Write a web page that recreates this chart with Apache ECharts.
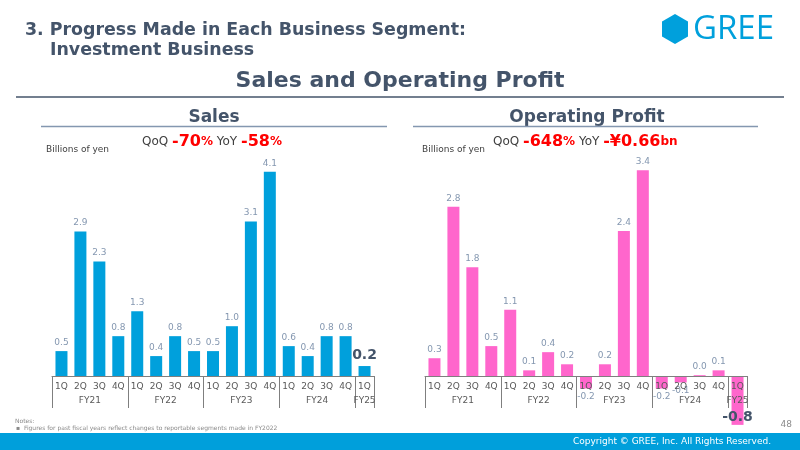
<!DOCTYPE html>
<html>
<head>
<meta charset="utf-8">
<title>Investment Business - Sales and Operating Profit</title>
<script src="https://cdn.jsdelivr.net/npm/echarts@6/dist/echarts.min.js"></script>
<style>
html, body { margin: 0; padding: 0; background: #fff; }
#chart_seg { width: 800px; height: 450px; }
</style>
</head>
<body>
<div id="chart_seg"></div>
<script>
// quarters and fiscal year groups
const quarters = ['1Q', '2Q', '3Q', '4Q', '1Q', '2Q', '3Q', '4Q', '1Q', '2Q', '3Q', '4Q', '1Q', '2Q', '3Q', '4Q', '1Q'];
const fiscalYears = ['FY21', 'FY22', 'FY23', 'FY24', 'FY25'];
const fyQuarterCount = [4, 4, 4, 4, 1];

// billions of yen
const salesValues = [0.5, 2.9, 2.3, 0.8, 1.3, 0.4, 0.8, 0.5, 0.5, 1.0, 3.1, 4.1, 0.6, 0.4, 0.8, 0.8, 0.2];
const profitValues = [0.3, 2.8, 1.8, 0.5, 1.1, 0.1, 0.4, 0.2, -0.2, 0.2, 2.4, 3.4, -0.2, -0.1, 0.02, 0.1, -0.8];

const salesChange = { qoq: '-70', qoqUnit: '%', yoy: '-58', yoyUnit: '%' };
const profitChange = { qoq: '-648', qoqUnit: '%', yoy: '-¥0.66', yoyUnit: 'bn' };

const DARK = '#44546a';
const FONT = '"DejaVu Sans", Verdana, sans-serif';

// group boundaries / centres on a 0..n value scale
let fyBounds = [0];
let fyCentres = [];
fyQuarterCount.forEach((n) => {
  let start = fyBounds[fyBounds.length - 1];
  fyCentres.push(start + n / 2);
  fyBounds.push(start + n);
});

function barData(values) {
  return values.map((v, i) => {
    let last = i === values.length - 1;
    let item = { value: v, label: { position: v < 0 ? 'bottom' : 'top' } };
    if (last) {
      item.label = {
        position: v < 0 ? 'insideBottom' : 'top',
        distance: v < 0 ? 1 : 4,
        fontSize: 14,
        fontWeight: 'bold',
        color: DARK
      };
    }
    return item;
  });
}

function barSeries(values, color, idx) {
  return {
    type: 'bar',
    xAxisIndex: idx,
    yAxisIndex: idx,
    barWidth: 12,
    data: barData(values),
    itemStyle: { color: color },
    label: {
      show: true,
      distance: 4,
      fontFamily: FONT,
      fontSize: 9,
      color: '#8497b0',
      formatter: (p) => p.value.toFixed(1)
    }
  };
}

// hidden category axis for the bars
function barAxis(idx) {
  return { type: 'category', gridIndex: idx, data: quarters, show: false };
}

// visible quarter labels, drawn in the label grid whose bottom is the zero line
function quarterAxis(idx) {
  return {
    type: 'category',
    gridIndex: idx,
    data: quarters,
    position: 'bottom',
    z: 5,
    axisLine: { onZero: false, lineStyle: { color: '#7f7f7f', width: 1 } },
    axisTick: { show: false },
    axisLabel: { margin: 6, fontFamily: FONT, fontSize: 9, color: '#595959', interval: 0 }
  };
}

function groupAxis(idx) {
  return {
    type: 'value',
    gridIndex: idx,
    min: 0,
    max: quarters.length,
    position: 'bottom',
    z: 5,
    axisLine: { show: false, onZero: false },
    splitLine: { show: false },
    axisTick: {
      show: true,
      length: 32,
      customValues: fyBounds,
      lineStyle: { color: '#7f7f7f' }
    },
    axisLabel: {
      customValues: fyCentres,
      margin: 20,
      fontFamily: FONT,
      fontSize: 9,
      color: '#595959',
      formatter: (v) => fiscalYears[fyCentres.indexOf(v)]
    }
  };
}

function changeText(c) {
  return '{n|QoQ }{b|' + c.qoq + '}{s|' + c.qoqUnit + '}{n| YoY }{b|' + c.yoy + '}{s|' + c.yoyUnit + '}';
}

const changeRich = {
  n: { fontFamily: FONT, fontSize: 12, fill: '#404040' },
  b: { fontFamily: FONT, fontSize: 16, fontWeight: 'bold', fill: '#ff0000' },
  s: { fontFamily: FONT, fontSize: 12, fontWeight: 'bold', fill: '#ff0000' }
};

function hexagon(cx, cy, r) {
  let pts = [];
  for (let i = 0; i < 6; i++) {
    let a = Math.PI / 3 * i - Math.PI / 2;
    pts.push([cx + r * Math.cos(a), cy + r * Math.sin(a)]);
  }
  return pts;
}

function text(x, y, str, font, fill, align) {
  return {
    type: 'text', x: x, y: y,
    style: { text: str, font: font, fill: fill, align: align || 'left', verticalAlign: 'middle' }
  };
}

let myChart = echarts.init(document.getElementById('chart_seg'));

let option = {
  animation: false,
  grid: [
    { left: 52, width: 322, top: 127, bottom: 74 },
    { left: 425, width: 322, top: 134, height: 303 },
    { left: 52, width: 322, top: 300, bottom: 74 },
    { left: 425, width: 322, top: 300, bottom: 74 }
  ],
  xAxis: [barAxis(0), barAxis(1), quarterAxis(2), quarterAxis(3), groupAxis(2), groupAxis(3)],
  yAxis: [
    { type: 'value', gridIndex: 0, min: 0, max: 5, show: false },
    { type: 'value', gridIndex: 1, min: -1, max: 4, show: false },
    { type: 'value', gridIndex: 2, min: 0, max: 1, show: false },
    { type: 'value', gridIndex: 3, min: 0, max: 1, show: false }
  ],
  series: [
    barSeries(salesValues, '#00a0dc', 0),
    barSeries(profitValues, '#ff66cc', 1)
  ],
  graphic: [
    text(25, 30, '3. Progress Made in Each Business Segment:', 'bold 17.4px ' + FONT, DARK),
    text(50, 50, 'Investment Business', 'bold 17.4px ' + FONT, DARK),
    text(400, 81, 'Sales and Operating Profit', 'bold 22px ' + FONT, DARK, 'center'),
    { type: 'line', shape: { x1: 16, y1: 97, x2: 784, y2: 97 }, style: { stroke: DARK, lineWidth: 1.5 } },
    text(214, 118, 'Sales', 'bold 17px ' + FONT, DARK, 'center'),
    text(587, 118, 'Operating Profit', 'bold 17px ' + FONT, DARK, 'center'),
    { type: 'line', shape: { x1: 41, y1: 126.5, x2: 387, y2: 126.5 }, style: { stroke: '#8497b0', lineWidth: 1.5 } },
    { type: 'line', shape: { x1: 413, y1: 126.5, x2: 758, y2: 126.5 }, style: { stroke: '#8497b0', lineWidth: 1.5 } },
    text(46, 150, 'Billions of yen', '9px ' + FONT, '#404040'),
    text(422, 150, 'Billions of yen', '9px ' + FONT, '#404040'),
    {
      type: 'text', x: 142, y: 142,
      style: { text: changeText(salesChange), rich: changeRich, verticalAlign: 'middle' }
    },
    {
      type: 'text', x: 493, y: 142,
      style: { text: changeText(profitChange), rich: changeRich, verticalAlign: 'middle' }
    },
    // logo
    { type: 'polygon', shape: { points: hexagon(675, 29, 15) }, style: { fill: '#00a0dc' } },
    text(693, 30, 'GREE', '33px "Open Sans", sans-serif', '#00a0dc'),
    // footer
    text(15, 421, 'Notes:', '6px ' + FONT, '#8a8a8a'),
    text(16, 428, '\u25aa  Figures for past fiscal years reflect changes to reportable segments made in FY2022', '6px ' + FONT, '#8a8a8a'),
    text(792, 425, '48', '9px ' + FONT, '#8a8a8a', 'right'),
    { type: 'rect', shape: { x: 0, y: 433, width: 800, height: 17 }, style: { fill: '#009fdb' } },
    text(771, 442, 'Copyright \u00a9 GREE, Inc. All Rights Reserved.', '9px ' + FONT, '#ffffff', 'right')
  ]
};

myChart.setOption(option, true);

window.addEventListener('resize', () => {
  myChart.resize();
});
</script>
</body>
</html>
